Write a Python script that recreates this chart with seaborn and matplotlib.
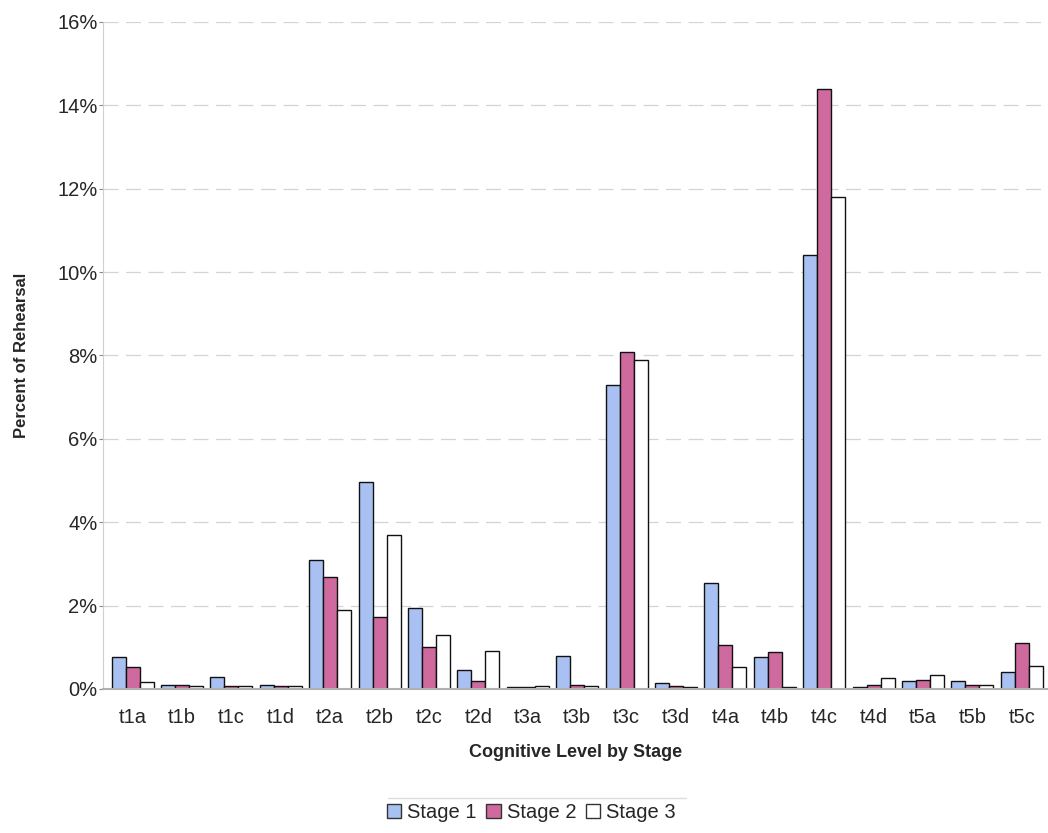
import matplotlib
matplotlib.use("Agg")
import matplotlib.pyplot as plt
import seaborn as sns
import pandas as pd
from matplotlib.ticker import FuncFormatter
from matplotlib.patches import Patch

categories = ["t1a", "t1b", "t1c", "t1d", "t2a", "t2b", "t2c", "t2d", "t3a", "t3b",
              "t3c", "t3d", "t4a", "t4b", "t4c", "t4d", "t5a", "t5b", "t5c"]
stage1 = [0.77, 0.10, 0.28, 0.10, 3.09, 4.96, 1.94, 0.45, 0.05, 0.79,
          7.30, 0.15, 2.55, 0.77, 10.40, 0.05, 0.20, 0.20, 0.40]
stage2 = [0.53, 0.10, 0.08, 0.08, 2.69, 1.73, 1.00, 0.20, 0.05, 0.10,
          8.08, 0.07, 1.05, 0.89, 14.40, 0.10, 0.22, 0.10, 1.10]
stage3 = [0.17, 0.07, 0.08, 0.07, 1.90, 3.70, 1.30, 0.91, 0.07, 0.07,
          7.90, 0.05, 0.52, 0.05, 11.80, 0.26, 0.33, 0.10, 0.55]
stages = ["Stage 1", "Stage 2", "Stage 3"]
colors = ["#A9C1F2", "#CF6A9F", "#FFFFFF"]

df = pd.DataFrame({
    "cat": categories * 3,
    "val": stage1 + stage2 + stage3,
    "stage": [stages[0]] * len(categories) + [stages[1]] * len(categories) + [stages[2]] * len(categories),
})

sns.set_style("white")
plt.rcParams["font.family"] = ["Liberation Sans", "DejaVu Sans"]

fig = plt.figure(figsize=(10.48, 8.33), dpi=100)
ax = fig.add_axes([0.0983, 0.173, 0.9017, 0.8006])

sns.barplot(data=df, x="cat", y="val", hue="stage", order=categories,
            hue_order=stages, palette=colors, width=0.85, edgecolor="#111111",
            linewidth=1.0, ax=ax, legend=False, saturation=1)

ax.set_ylim(0, 16)
ax.set_xlim(-0.6, 18.53)
ax.set_yticks(range(0, 17, 2))
ax.yaxis.set_major_formatter(FuncFormatter(lambda v, p: f"{int(v)}%"))
for y in range(2, 17, 2):
    ax.axhline(y, color="#a0a0a0", lw=0.9, ls=(0, (12, 6)), alpha=0.45, zorder=0)

for s in ["top", "right"]:
    ax.spines[s].set_visible(False)
ax.spines["left"].set_color("#d0d0d0")
ax.spines["bottom"].set_color("#b0b0b0")
ax.spines["bottom"].set_linewidth(1.5)
ax.tick_params(axis="y", labelsize=14.5, length=3, color="#888888", left=True, pad=1)
ax.tick_params(axis="x", labelsize=14.5, length=0, pad=14)

ax.set_xlabel("Cognitive Level by Stage", fontsize=13, fontweight="bold", labelpad=12)
ax.set_ylabel("Percent of Rehearsal", fontsize=12, fontweight="bold", labelpad=20)

handles = [Patch(facecolor=c, edgecolor="#333333", label=s) for c, s in zip(colors, stages)]
fig.legend(handles=handles, loc="center", bbox_to_anchor=(0.507, 0.025), ncol=3,
           frameon=False, fontsize=14.5, handlelength=0.7, handleheight=0.7,
           handletextpad=0.3, columnspacing=0.5)
fig.add_artist(plt.Line2D([0.37, 0.655], [0.042, 0.042], color="#dddddd", lw=1))

fig.savefig("out.png", dpi=100)
